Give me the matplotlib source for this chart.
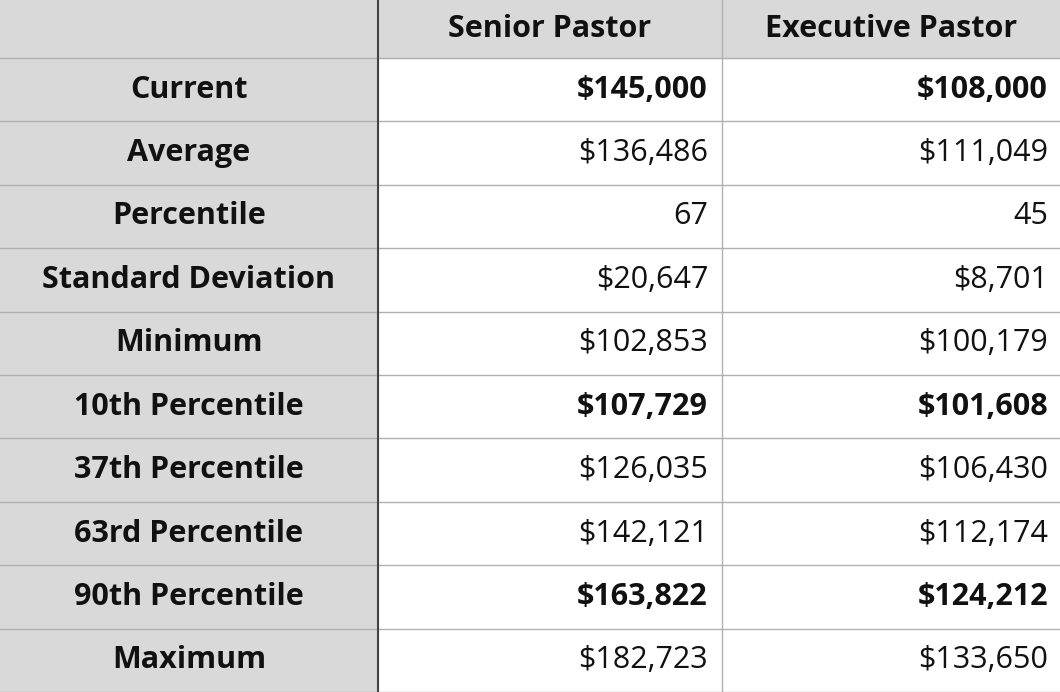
import matplotlib
matplotlib.use("Agg")
import matplotlib.pyplot as plt
from matplotlib.patches import Rectangle

columns = ["Senior Pastor", "Executive Pastor"]
row_labels = ["Current", "Average", "Percentile", "Standard Deviation", "Minimum",
              "10th Percentile", "37th Percentile", "63rd Percentile", "90th Percentile", "Maximum"]
senior = ["$145,000", "$136,486", "67", "$20,647", "$102,853",
          "$107,729", "$126,035", "$142,121", "$163,822", "$182,723"]
executive = ["$108,000", "$111,049", "45", "$8,701", "$100,179",
             "$101,608", "$106,430", "$112,174", "$124,212", "$133,650"]
bold_rows = ["Current", "10th Percentile", "90th Percentile"]

W, H = 1060, 692
fig = plt.figure(figsize=(W/100, H/100), dpi=100)
ax = fig.add_axes([0, 0, 1, 1])
ax.set_xlim(0, W); ax.set_ylim(H, 0); ax.axis("off")

xs = [0, 378, 722, W]
header_h = 58
row_h = (H - header_h) / len(row_labels)
gray = "#d9d9d9"
line = "#b0b0b0"
font = "Open Sans"
fs = 22

ax.add_patch(Rectangle((0, 0), W, header_h, color=gray, zorder=0))
ax.add_patch(Rectangle((0, 0), xs[1], H, color=gray, zorder=0))

for i, c in enumerate(columns):
    ax.text((xs[i+1] + xs[i+2]) / 2, header_h / 2, c, ha="center", va="center",
            fontsize=fs, fontweight="bold", family=font, color="#111")

for r, lab in enumerate(row_labels):
    yc = header_h + (r + 0.5) * row_h
    ax.text(xs[1] / 2, yc, lab, ha="center", va="center", fontsize=fs,
            fontweight="bold", family=font, color="#111")
    w = "bold" if lab in bold_rows else "normal"
    ax.text(xs[2] - 14, yc, senior[r], ha="right", va="center", fontsize=fs,
            fontweight=w, family=font, color="#111")
    ax.text(xs[3] - 12, yc, executive[r], ha="right", va="center", fontsize=fs,
            fontweight=w, family=font, color="#111")

for r in range(len(row_labels) + 1):
    y = header_h + r * row_h
    ax.plot([0, W], [y, y], color=line, lw=1)
ax.plot([xs[1], xs[1]], [0, H], color="#444", lw=1.5)
ax.plot([xs[2], xs[2]], [0, H], color=line, lw=1)

fig.savefig("out.png", dpi=100)
